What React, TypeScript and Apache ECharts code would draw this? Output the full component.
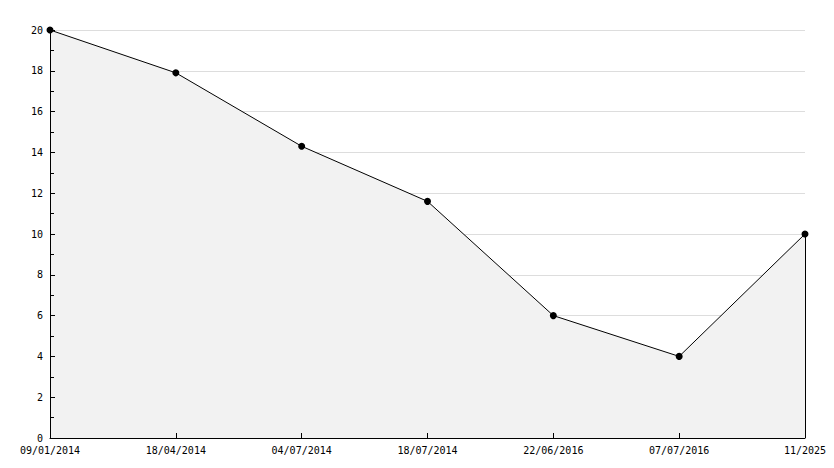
import React, { useEffect, useRef } from "react";
import * as echarts from "echarts";

const categories = ["09/01/2014", "18/04/2014", "04/07/2014", "18/07/2014", "22/06/2016", "07/07/2016", "11/2025"];
const values = [20, 17.9, 14.3, 11.6, 6.0, 4.0, 10.0];
const yMin = 0;
const yMax = 20;
const yInterval = 2;

export default function App() {
  const ref = useRef<HTMLDivElement>(null);
  useEffect(() => {
    if (!ref.current) return;
    const chart = echarts.init(ref.current, null, { renderer: "svg" });
    const font = { fontFamily: "DejaVu Sans Mono", fontSize: 10, color: "#000" };
    const last = categories.length - 1;
    chart.setOption({
      animation: false,
      backgroundColor: "#fff",
      grid: { left: 50, right: 29, top: 30, bottom: 30, containLabel: false },
      xAxis: {
        type: "category",
        data: categories,
        boundaryGap: false,
        z: 5,
        axisLine: { lineStyle: { color: "#000", width: 1 } },
        axisTick: { inside: true, length: 5, lineStyle: { color: "#000" } },
        axisLabel: { ...font, margin: 7, showMinLabel: true, showMaxLabel: true, interval: 0 },
        splitLine: { show: false },
      },
      yAxis: [
        {
          type: "value",
          min: yMin,
          max: yMax,
          interval: yInterval,
          axisLine: { show: false },
          axisTick: { show: false },
          axisLabel: { ...font, margin: 7 },
          splitLine: { show: true, lineStyle: { color: "#dddddd", width: 1 } },
        },
        {
          type: "value",
          position: "left",
          min: yMin,
          max: yMax,
          interval: yInterval,
          z: 5,
          axisLine: { show: true, onZero: false, lineStyle: { color: "#000", width: 1 } },
          axisTick: { show: true, inside: true, length: 5, lineStyle: { color: "#000" } },
          minorTick: { show: true, splitNumber: 2, length: 4, lineStyle: { color: "#000" } },
          axisLabel: { show: false },
          splitLine: { show: false },
        },
      ],
      series: [
        {
          type: "line",
          data: values,
          yAxisIndex: 0,
          symbol: "circle",
          symbolSize: 7,
          showAllSymbol: true,
          itemStyle: { color: "#000" },
          lineStyle: { color: "#000", width: 1 },
          areaStyle: { color: "#f2f2f2", opacity: 1 },
          markLine: {
            silent: true,
            symbol: "none",
            label: { show: false },
            lineStyle: { color: "#000", width: 1, type: "solid" },
            data: [[{ coord: [categories[last], values[last]] }, { coord: [categories[last], yMin] }]],
          },
        },
      ],
    });
    return () => chart.dispose();
  }, []);
  return <div ref={ref} style={{ width: 834, height: 468, position: "absolute", left: 0, top: 0 }} />;
}
